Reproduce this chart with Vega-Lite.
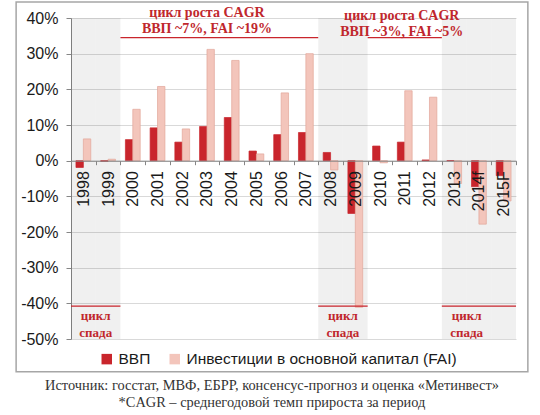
{
  "$schema": "https://vega.github.io/schema/vega-lite/v6.json",
  "width": 445,
  "height": 321,
  "autosize": {"type": "none"},
  "padding": {"left": 71, "top": 18, "right": 24, "bottom": 76},
  "background": "white",
  "config": {"view": {"stroke": null}, "font": "Liberation Sans"},
  "title": {
    "text": [
      "Источник: госстат, МВФ, ЕБРР, консенсус-прогноз и оценка «Метинвест»",
      "*CAGR – среднегодовой темп прироста за период"
    ],
    "orient": "bottom",
    "anchor": "middle",
    "frame": "bounds",
    "font": "Liberation Serif",
    "fontSize": 14.4,
    "fontWeight": "normal",
    "color": "#333333",
    "lineHeight": 17,
    "offset": 6
  },
  "datasets": {
    "growth": [
      {"year": "1998", "series": "ВВП", "value": -1.9},
      {"year": "1998", "series": "Инвестиции в основной капитал (FAI)", "value": 6.1},
      {"year": "1999", "series": "ВВП", "value": -0.2},
      {"year": "1999", "series": "Инвестиции в основной капитал (FAI)", "value": 0.4},
      {"year": "2000", "series": "ВВП", "value": 5.9},
      {"year": "2000", "series": "Инвестиции в основной капитал (FAI)", "value": 14.4},
      {"year": "2001", "series": "ВВП", "value": 9.2},
      {"year": "2001", "series": "Инвестиции в основной капитал (FAI)", "value": 20.8},
      {"year": "2002", "series": "ВВП", "value": 5.2},
      {"year": "2002", "series": "Инвестиции в основной капитал (FAI)", "value": 8.9},
      {"year": "2003", "series": "ВВП", "value": 9.6},
      {"year": "2003", "series": "Инвестиции в основной капитал (FAI)", "value": 31.2},
      {"year": "2004", "series": "ВВП", "value": 12.1},
      {"year": "2004", "series": "Инвестиции в основной капитал (FAI)", "value": 28.1},
      {"year": "2005", "series": "ВВП", "value": 2.7},
      {"year": "2005", "series": "Инвестиции в основной капитал (FAI)", "value": 1.9},
      {"year": "2006", "series": "ВВП", "value": 7.3},
      {"year": "2006", "series": "Инвестиции в основной капитал (FAI)", "value": 19.0},
      {"year": "2007", "series": "ВВП", "value": 7.9},
      {"year": "2007", "series": "Инвестиции в основной капитал (FAI)", "value": 30.0},
      {"year": "2008", "series": "ВВП", "value": 2.3},
      {"year": "2008", "series": "Инвестиции в основной капитал (FAI)", "value": -2.6},
      {"year": "2009", "series": "ВВП", "value": -14.8},
      {"year": "2009", "series": "Инвестиции в основной капитал (FAI)", "value": -41.1},
      {"year": "2010", "series": "ВВП", "value": 4.1},
      {"year": "2010", "series": "Инвестиции в основной капитал (FAI)", "value": -0.6},
      {"year": "2011", "series": "ВВП", "value": 5.2},
      {"year": "2011", "series": "Инвестиции в основной капитал (FAI)", "value": 19.6},
      {"year": "2012", "series": "ВВП", "value": 0.2},
      {"year": "2012", "series": "Инвестиции в основной капитал (FAI)", "value": 17.8},
      {"year": "2013", "series": "ВВП", "value": 0.0},
      {"year": "2013", "series": "Инвестиции в основной капитал (FAI)", "value": -6.4},
      {"year": "2014f", "series": "ВВП", "value": -7.3},
      {"year": "2014f", "series": "Инвестиции в основной капитал (FAI)", "value": -17.8},
      {"year": "2015F", "series": "ВВП", "value": -4.2},
      {"year": "2015F", "series": "Инвестиции в основной капитал (FAI)", "value": -11.3}
    ],
    "recession": [
      {"year": "1998"}, {"year": "1999"},
      {"year": "2008"}, {"year": "2009"},
      {"year": "2013"}, {"year": "2014f"}, {"year": "2015F"}
    ],
    "growthCycles": [
      {"from": "2000", "to": "2007"},
      {"from": "2010", "to": "2012"}
    ],
    "recessionCycles": [
      {"from": "1998", "to": "1999"},
      {"from": "2008", "to": "2009"},
      {"from": "2013", "to": "2015F"}
    ]
  },
  "layer": [
    {
      "data": {"values": [{}]},
      "mark": {"type": "rect", "fill": null, "stroke": "#A6A6A6", "strokeWidth": 1.5, "clip": false},
      "encoding": {
        "x": {"datum": "1998", "type": "nominal", "bandPosition": -2.22},
        "x2": {"datum": "2015F", "bandPosition": 1.48},
        "y": {"datum": 44.5, "type": "quantitative"},
        "y2": {"datum": -59.2}
      }
    },
    {
      "data": {"name": "recession"},
      "mark": {"type": "rect", "fill": "#000000", "opacity": 0.06},
      "encoding": {
        "x": {
          "field": "year",
          "type": "nominal",
          "sort": null,
          "scale": {
            "domain": ["1998", "1999", "2000", "2001", "2002", "2003", "2004", "2005", "2006", "2007", "2008", "2009", "2010", "2011", "2012", "2013", "2014f", "2015F"],
            "paddingInner": 0,
            "paddingOuter": 0
          },
          "axis": {
            "title": null,
            "orient": "bottom",
            "offset": -178.3,
            "labelAngle": -90,
            "labelAlign": "right",
            "labelBaseline": "middle",
            "labelOverlap": false,
            "tickBand": "extent",
            "tickSize": 4,
            "domainColor": "#868686",
            "tickColor": "#868686",
            "labelFont": "Liberation Sans",
            "labelFontSize": 16,
            "labelColor": "#1a1a1a",
            "labelPadding": 6,
            "zindex": 1
          }
        },
        "y": {
          "datum": 40,
          "type": "quantitative",
          "scale": {"domain": [-50, 40], "nice": false},
          "axis": {
            "title": null,
            "values": [-50, -40, -30, -20, -10, 0, 10, 20, 30, 40],
            "tickCount": 12,
            "labelExpr": "datum.value + '%'",
            "labelOverlap": false,
            "grid": true,
            "gridColor": "#D9D9D9",
            "domainColor": "#868686",
            "tickColor": "#868686",
            "tickSize": 5,
            "labelFont": "Liberation Sans",
            "labelFontSize": 16,
            "labelColor": "#1a1a1a",
            "labelPadding": 8
          }
        },
        "y2": {"datum": -50}
      }
    },
    {
      "data": {"name": "growth"},
      "mark": {"type": "bar", "strokeWidth": 0.7},
      "encoding": {
        "x": {"field": "year", "type": "nominal", "sort": null},
        "xOffset": {
          "field": "series",
          "type": "nominal",
          "scale": {
            "domain": ["ВВП", "Инвестиции в основной капитал (FAI)"],
            "paddingInner": 0,
            "paddingOuter": 0.67
          }
        },
        "y": {"field": "value", "type": "quantitative"},
        "color": {
          "field": "series",
          "type": "nominal",
          "scale": {
            "domain": ["ВВП", "Инвестиции в основной капитал (FAI)"],
            "range": ["#C9252C", "#F3C5BB"]
          },
          "legend": {
            "title": null,
            "orient": "none",
            "direction": "horizontal",
            "legendX": 28,
            "legendY": 333,
            "symbolType": "square",
            "symbolSize": 110,
            "symbolStrokeWidth": 0,
            "labelFont": "Liberation Sans",
            "labelFontSize": 15.5,
            "labelColor": "#1a1a1a",
            "labelLimit": 0,
            "labelOffset": 4,
            "columnPadding": 16
          }
        },
        "stroke": {
          "field": "series",
          "type": "nominal",
          "scale": {
            "domain": ["ВВП", "Инвестиции в основной капитал (FAI)"],
            "range": ["#C9252C", "#E3A699"]
          },
          "legend": null
        }
      }
    },
    {
      "data": {"name": "growthCycles"},
      "mark": {"type": "rule", "color": "#C9252C", "strokeWidth": 1.2},
      "encoding": {
        "x": {"field": "from", "type": "nominal", "bandPosition": 0},
        "x2": {"field": "to", "bandPosition": 1},
        "y": {"datum": 34.5, "type": "quantitative"}
      }
    },
    {
      "data": {"name": "recessionCycles"},
      "mark": {"type": "rule", "color": "#C9252C", "strokeWidth": 1.2},
      "encoding": {
        "x": {"field": "from", "type": "nominal", "bandPosition": 0},
        "x2": {"field": "to", "bandPosition": 1},
        "y": {"datum": -40.8, "type": "quantitative"}
      }
    },
    {
      "data": {"values": [{}]},
      "mark": {
        "type": "text",
        "text": ["цикл роста CAGR", "ВВП ~7%, FAI ~19%"],
        "font": "Liberation Serif",
        "fontWeight": "bold",
        "fontSize": 14,
        "color": "#C0272D",
        "lineHeight": 16,
        "baseline": "middle",
        "align": "center"
      },
      "encoding": {
        "x": {"datum": "2003", "type": "nominal"},
        "y": {"datum": 41.4, "type": "quantitative"}
      }
    },
    {
      "data": {"values": [{}]},
      "mark": {
        "type": "text",
        "text": ["цикл роста CAGR", "ВВП ~3%, FAI ~5%"],
        "font": "Liberation Serif",
        "fontWeight": "bold",
        "fontSize": 14,
        "color": "#C0272D",
        "lineHeight": 16,
        "baseline": "middle",
        "align": "center",
        "dx": -3
      },
      "encoding": {
        "x": {"datum": "2011", "type": "nominal"},
        "y": {"datum": 40.6, "type": "quantitative"}
      }
    },
    {
      "data": {"values": [{"year": "1999"}, {"year": "2009"}, {"year": "2014f"}]},
      "mark": {
        "type": "text",
        "text": ["цикл", "спада"],
        "font": "Liberation Serif",
        "fontWeight": "bold",
        "fontSize": 13,
        "color": "#C0272D",
        "lineHeight": 17,
        "baseline": "middle",
        "align": "center"
      },
      "encoding": {
        "x": {"field": "year", "type": "nominal", "bandPosition": 0},
        "y": {"datum": -43.6, "type": "quantitative"}
      }
    }
  ]
}
